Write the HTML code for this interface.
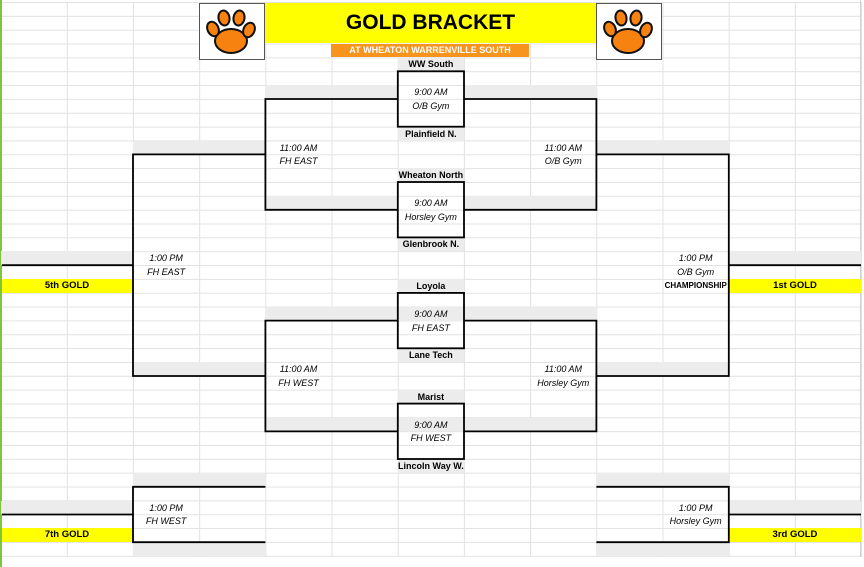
<!DOCTYPE html>
<html><head><meta charset="utf-8"><style>
html,body{margin:0;padding:0;background:#fff}
#pg{position:relative;width:864px;height:567px;overflow:hidden;font-family:"Liberation Sans",Arial,sans-serif;color:#000}
#grid{position:absolute;left:0;top:2px;width:862px;height:555px;
background-image:linear-gradient(to right,#e2e2e2 1px,transparent 1px),linear-gradient(to bottom,#e2e2e2 1px,transparent 1px);
background-size:66.2px 13.85px;background-position:0.6px 0}
.c{position:absolute;left:calc(0.6px + var(--c)*66.2px);top:calc(2px + var(--r)*13.85px);width:calc(var(--w,1)*66.2px);height:13.85px;line-height:14px;text-align:center;font-size:9px;white-space:nowrap}
.g{background:#ececec}
.y{background:#ffff00;font-weight:bold;font-size:9.5px}
.i{font-style:italic}
.b{font-weight:bold}
.t{background:#ececec;font-weight:bold}
</style></head><body><div id="pg">
<div id="grid"></div>
<div style="position:absolute;left:0;top:0;width:2px;height:567px;background:#7dc63b"></div>
<div style="position:absolute;left:860px;top:0;width:1px;height:557px;background:#cfcfcf"></div>

<div class="c g" style="--c:4;--r:6;--w:2"></div><div class="c g" style="--c:7;--r:6;--w:2"></div>
<div class="c g" style="--c:4;--r:14;--w:2"></div><div class="c g" style="--c:7;--r:14;--w:2"></div>
<div class="c g" style="--c:4;--r:22;--w:5"></div>
<div class="c g" style="--c:4;--r:30;--w:5"></div>
<div class="c g" style="--c:2;--r:10;--w:2"></div><div class="c g" style="--c:9;--r:10;--w:2"></div>
<div class="c g" style="--c:2;--r:26;--w:2"></div><div class="c g" style="--c:9;--r:26;--w:2"></div>
<div class="c g" style="--c:0;--r:18;--w:2"></div><div class="c g" style="--c:11;--r:18;--w:2"></div>
<div class="c g" style="--c:2;--r:34;--w:2"></div><div class="c g" style="--c:9;--r:34;--w:2"></div>
<div class="c g" style="--c:2;--r:39;--w:2"></div><div class="c g" style="--c:9;--r:39;--w:2"></div>
<div class="c g" style="--c:0;--r:36;--w:2"></div><div class="c g" style="--c:11;--r:36;--w:2"></div>

<div style="position:absolute;left:265px;top:3px;width:331px;height:40px;background:#ffff00;text-align:center;line-height:40px;font-size:21px;font-weight:bold">GOLD BRACKET</div>
<div style="position:absolute;left:331px;top:44px;width:198px;height:13px;background:#f7941d;color:#fff;text-align:center;line-height:13px;font-size:9px;font-weight:bold">AT WHEATON WARRENVILLE SOUTH</div>

<svg style="position:absolute;left:199px;top:3px" width="66" height="57" viewBox="0 0 66 57">
<rect x="0.5" y="0.5" width="65" height="56" fill="#fff" stroke="#555"/>
<g stroke="#111" stroke-width="2" fill="#f7820f">
<ellipse cx="32" cy="38" rx="16" ry="12"/>
<ellipse cx="14" cy="26" rx="5.5" ry="7.5" transform="rotate(-25 14 26)"/>
<ellipse cx="25" cy="15" rx="5.5" ry="7.5" transform="rotate(-10 25 15)"/>
<ellipse cx="40" cy="15" rx="5.5" ry="7.5" transform="rotate(10 40 15)"/>
<ellipse cx="50" cy="27" rx="5.5" ry="7.5" transform="rotate(25 50 27)"/>
</g></svg>
<svg style="position:absolute;left:596px;top:3px" width="66" height="57" viewBox="0 0 66 57">
<rect x="0.5" y="0.5" width="65" height="56" fill="#fff" stroke="#555"/>
<g stroke="#111" stroke-width="2" fill="#f7820f">
<ellipse cx="32" cy="38" rx="16" ry="12"/>
<ellipse cx="14" cy="26" rx="5.5" ry="7.5" transform="rotate(-25 14 26)"/>
<ellipse cx="25" cy="15" rx="5.5" ry="7.5" transform="rotate(-10 25 15)"/>
<ellipse cx="40" cy="15" rx="5.5" ry="7.5" transform="rotate(10 40 15)"/>
<ellipse cx="50" cy="27" rx="5.5" ry="7.5" transform="rotate(25 50 27)"/>
</g></svg>

<div class="c t" style="--c:6;--r:4">WW South</div>
<div class="c t" style="--c:6;--r:9">Plainfield N.</div>
<div class="c t" style="--c:6;--r:12">Wheaton North</div>
<div class="c t" style="--c:6;--r:17">Glenbrook N.</div>
<div class="c t" style="--c:6;--r:20">Loyola</div>
<div class="c t" style="--c:6;--r:25">Lane Tech</div>
<div class="c t" style="--c:6;--r:28">Marist</div>
<div class="c t" style="--c:6;--r:33">Lincoln Way W.</div>

<div class="c i" style="--c:6;--r:6">9:00 AM</div><div class="c i" style="--c:6;--r:7">O/B Gym</div>
<div class="c i" style="--c:6;--r:14">9:00 AM</div><div class="c i" style="--c:6;--r:15">Horsley Gym</div>
<div class="c i" style="--c:6;--r:22">9:00 AM</div><div class="c i" style="--c:6;--r:23">FH EAST</div>
<div class="c i" style="--c:6;--r:30">9:00 AM</div><div class="c i" style="--c:6;--r:31">FH WEST</div>
<div class="c i" style="--c:4;--r:10">11:00 AM</div><div class="c i" style="--c:4;--r:11">FH EAST</div>
<div class="c i" style="--c:8;--r:10">11:00 AM</div><div class="c i" style="--c:8;--r:11">O/B Gym</div>
<div class="c i" style="--c:4;--r:26">11:00 AM</div><div class="c i" style="--c:4;--r:27">FH WEST</div>
<div class="c i" style="--c:8;--r:26">11:00 AM</div><div class="c i" style="--c:8;--r:27">Horsley Gym</div>
<div class="c i" style="--c:2;--r:18">1:00 PM</div><div class="c i" style="--c:2;--r:19">FH EAST</div>
<div class="c i" style="--c:10;--r:18">1:00 PM</div><div class="c i" style="--c:10;--r:19">O/B Gym</div>
<div class="c b" style="--c:10;--r:20;font-size:8px">CHAMPIONSHIP</div>
<div class="c i" style="--c:2;--r:36">1:00 PM</div><div class="c i" style="--c:2;--r:37">FH WEST</div>
<div class="c i" style="--c:10;--r:36">1:00 PM</div><div class="c i" style="--c:10;--r:37">Horsley Gym</div>

<div class="c y" style="--c:0;--r:20;--w:2;left:2px;width:130px">5th GOLD</div>
<div class="c y" style="--c:11;--r:20;--w:2">1st GOLD</div>
<div class="c y" style="--c:0;--r:38;--w:2;left:2px;width:130px">7th GOLD</div>
<div class="c y" style="--c:11;--r:38;--w:2">3rd GOLD</div>

<svg style="position:absolute;left:0;top:0" width="864" height="567">
<g stroke="#000" stroke-width="1.8" fill="none">
<rect x="397.8" y="71.3" width="66.2" height="55.4"/>
<rect x="397.8" y="182" width="66.2" height="55.4"/>
<rect x="397.8" y="292.9" width="66.2" height="55.4"/>
<rect x="397.8" y="403.6" width="66.2" height="55.4"/>
<path d="M397.8 99H265.4V209.8H397.8M464 99H596.4V209.8H464"/>
<path d="M397.8 320.6H265.4V431.4H397.8M464 320.6H596.4V431.4H464"/>
<path d="M265.4 154.4H133V376H265.4M596.4 154.4H728.8V376H596.4"/>
<path d="M2 265.2H133M728.8 265.2H861"/>
<path d="M265.4 486.8H133V542.2H265.4M596.4 486.8H728.8V542.2H596.4"/>
<path d="M2 514.5H133M728.8 514.5H861"/>
</g></svg>
</div></body></html>
